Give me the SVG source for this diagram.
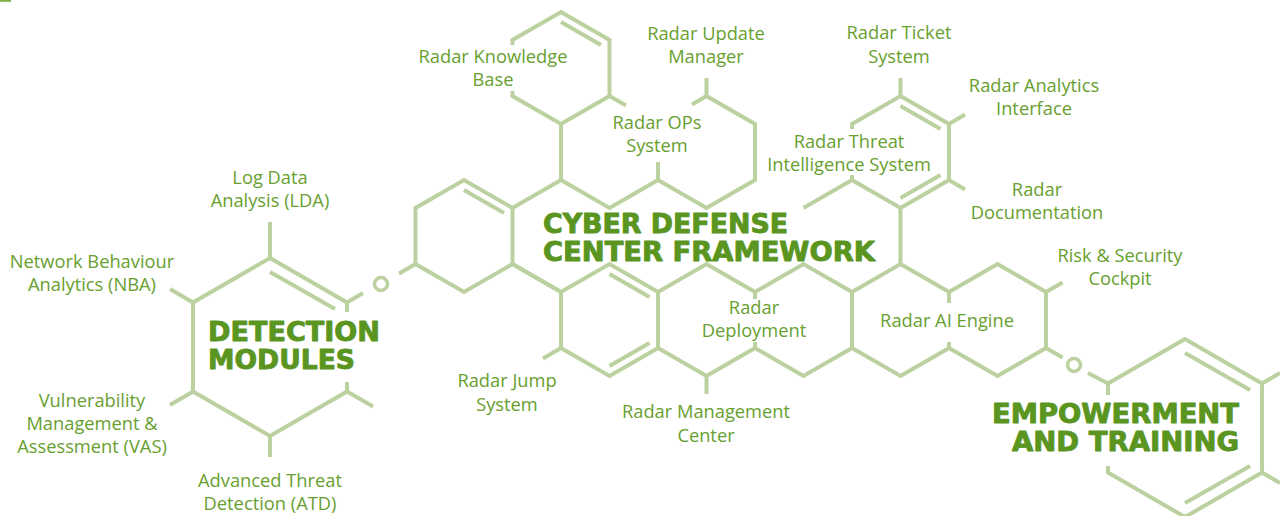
<svg xmlns="http://www.w3.org/2000/svg" width="1280" height="516" viewBox="0 0 1280 516">
<defs>
<style>
.ln{stroke:#bcd1a0;stroke-width:4;fill:none;stroke-linecap:butt;stroke-linejoin:miter}
.lb{font-family:"Open Sans","Liberation Sans",sans-serif;font-size:18.3px;fill:#68a02f;text-anchor:middle}
.tt{font-family:"DejaVu Sans","Liberation Sans",sans-serif;font-weight:bold;font-size:26px;fill:#5a951f;stroke:#5a951f;stroke-width:0.9;stroke-linejoin:round}
</style>
</defs>
<rect width="1280" height="516" fill="#ffffff"/>
<line x1="0" y1="0.8" x2="11" y2="0.8" stroke="#7fb03f" stroke-width="2"/>
<g id="connectors" class="ln">
<path d="M415.5,264 L399,273.5"/>
<circle cx="381" cy="284" r="6.5" stroke-width="3.5"/>
<path d="M363,293 L347,302.5"/>
<path d="M1046,348 L1062.5,357.5"/>
<circle cx="1074" cy="365" r="6.5" stroke-width="3.5"/>
<path d="M1088,373 L1108,383.5"/>
</g>
<g id="detection-modules">
<g class="ln">
<path d="M270,222 L270,258 L193,302.5 L193,391.5 L270,436 L347,391.5 L347,382"/>
<path d="M270,258 L347,302.5 L347,312"/>
<path d="M270,272 L335,309"/>
<path d="M193,302.5 L170,289"/>
<path d="M193,391.5 L170,405"/>
<path d="M270,436 L270,457"/>
<path d="M347,391.5 L373,406.5"/>
</g>
<text class="tt" x="208" y="341" textLength="172" lengthAdjust="spacingAndGlyphs">DETECTION</text>
<text class="tt" x="208" y="369" textLength="147" lengthAdjust="spacingAndGlyphs">MODULES</text>
</g>
<g id="lda"><text class="lb" x="270" y="184">Log Data</text><text class="lb" x="270" y="207">Analysis (LDA)</text></g>
<g id="nba"><text class="lb" x="92" y="268">Network Behaviour</text><text class="lb" x="92" y="291">Analytics (NBA)</text></g>
<g id="vas"><text class="lb" x="92" y="407">Vulnerability</text><text class="lb" x="92" y="430">Management &amp;</text><text class="lb" x="92" y="453">Assessment (VAS)</text></g>
<g id="atd"><text class="lb" x="270" y="487">Advanced Threat</text><text class="lb" x="270" y="510">Detection (ATD)</text></g>
<g id="cyber-defense-center-framework">
<g class="ln">
<path d="M561,180 L512.5,208 L464,180 L415.5,208 L415.5,264 L464,292 L512.5,264 L561,292"/>
<path d="M512.5,208 L512.5,264"/>
<path d="M464,190 L504,213"/>
</g>
<text class="tt" x="543" y="233" textLength="245" lengthAdjust="spacingAndGlyphs">CYBER DEFENSE</text>
<text class="tt" x="543" y="261" textLength="332" lengthAdjust="spacingAndGlyphs">CENTER FRAMEWORK</text>
</g>
<g id="knowledge-base">
<g class="ln">
<path d="M512.5,45 L512.5,40 L561,12 L609.5,40 L609.5,96 L561,124 L512.5,96 L512.5,91"/>
<path d="M561,22 L601,45"/>
<path d="M561,124 L561,180"/>
</g>
<text class="lb" x="493" y="63">Radar Knowledge</text><text class="lb" x="493" y="86">Base</text>
</g>
<g id="ops-system">
<g class="ln">
<path d="M609.5,96 L626,105.5"/>
<path d="M561,180 L609.5,208 L658,180 L658,162"/>
</g>
<text class="lb" x="657" y="129">Radar OPs</text><text class="lb" x="657" y="152">System</text>
</g>
<g id="update-manager">
<g class="ln">
<path d="M706.5,78 L706.5,96 L755,124 L755,180 L706.5,208 L658,180"/>
<path d="M706.5,96 L692,104.5"/>
</g>
<text class="lb" x="706" y="40">Radar Update</text><text class="lb" x="706" y="63">Manager</text>
</g>
<g id="threat-intelligence">
<g class="ln">
<path d="M852,129 L852,124 L900.5,96 L949,124 L949,180 L900.5,208 L852,180 L852,175"/>
<path d="M900.5,78 L900.5,96"/>
<path d="M900.5,106 L940.5,129"/>
<path d="M940.5,175 L900.5,198"/>
<path d="M949,124 L965,114.5"/>
<path d="M949,180 L965,189.5"/>
<path d="M852,180 L803.5,208"/>
<path d="M900.5,208 L900.5,264"/>
</g>
<text class="lb" x="849" y="148">Radar Threat</text><text class="lb" x="849" y="171">Intelligence System</text>
</g>
<g id="ticket-system"><text class="lb" x="899" y="39">Radar Ticket</text><text class="lb" x="899" y="63">System</text></g>
<g id="analytics-interface"><text class="lb" x="1034" y="92">Radar Analytics</text><text class="lb" x="1034" y="115">Interface</text></g>
<g id="documentation"><text class="lb" x="1037" y="196">Radar</text><text class="lb" x="1037" y="219">Documentation</text></g>
<g id="jump-system">
<g class="ln">
<path d="M512.5,264 L561,292 L609.5,264 L658,292 L658,348 L609.5,376 L561,348 L561,292"/>
<path d="M609.5,274 L649.5,297"/>
<path d="M609.5,366 L649.5,343"/>
<path d="M561,348 L543,358.5"/>
</g>
<text class="lb" x="507" y="387">Radar Jump</text><text class="lb" x="507" y="411">System</text>
</g>
<g id="deployment">
<g class="ln">
<path d="M658,292 L706.5,264 L755,292 L755,299"/>
<path d="M755,342 L755,348 L706.5,376 L658,348"/>
<path d="M706.5,376 L706.5,394"/>
</g>
<text class="lb" x="754" y="314">Radar</text><text class="lb" x="754" y="337">Deployment</text>
</g>
<g id="management-center">
<g class="ln">
<path d="M755,292 L803.5,264 L852,292 L852,348 L803.5,376 L755,348"/>
</g>
<text class="lb" x="706" y="418">Radar Management</text><text class="lb" x="706" y="442">Center</text>
</g>
<g id="ai-engine">
<g class="ln">
<path d="M852,292 L900.5,264 L949,292 L949,303"/>
<path d="M949,342 L949,348 L900.5,376 L852,348"/>
</g>
<text class="lb" x="947" y="327">Radar AI Engine</text>
</g>
<g id="risk-security-cockpit">
<g class="ln">
<path d="M949,292 L997.5,264 L1046,292 L1046,348 L997.5,376 L949,348"/>
<path d="M1046,292 L1062.5,282.5"/>
</g>
<text class="lb" x="1120" y="262">Risk &amp; Security</text><text class="lb" x="1120" y="285">Cockpit</text>
</g>
<g id="empowerment-training">
<g class="ln">
<path d="M1108,395 L1108,383.5 L1185,339 L1262,383.5 L1262,472.5 L1185,517 L1108,472.5 L1108,466"/>
<path d="M1185,353 L1250,390"/>
<path d="M1250,466 L1185,503"/>
<path d="M1262,383.5 L1280,373"/>
<path d="M1262,472.5 L1280,483"/>
</g>
<text class="tt" x="1239" y="423" text-anchor="end" textLength="247" lengthAdjust="spacingAndGlyphs">EMPOWERMENT</text>
<text class="tt" x="1239" y="451" text-anchor="end" textLength="227" lengthAdjust="spacingAndGlyphs">AND TRAINING</text>
</g>
</svg>
